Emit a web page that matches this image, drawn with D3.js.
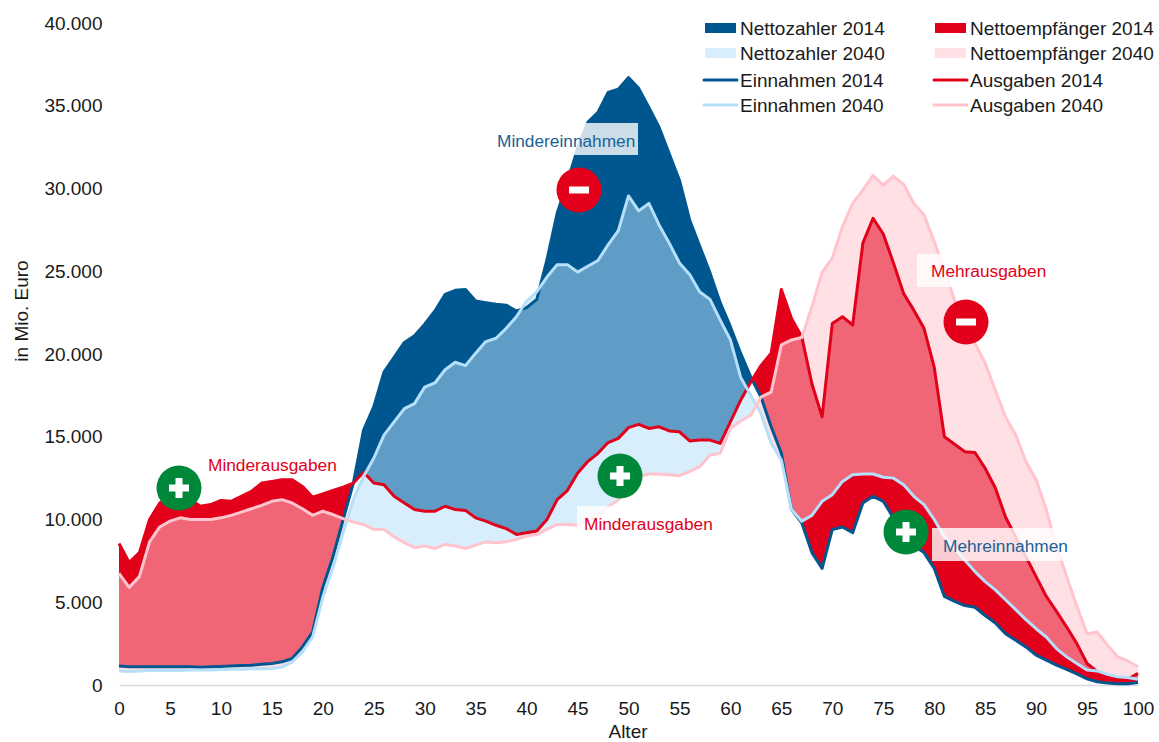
<!DOCTYPE html>
<html lang="de">
<head>
<meta charset="utf-8">
<script src="https://cdn.jsdelivr.net/npm/d3@7/dist/d3.min.js"></script>
<style>
html,body{margin:0;padding:0;background:#fff}
svg{display:block}
text{font-family:"Liberation Sans",Arial,sans-serif}
</style>
</head>
<body>
<svg id="chart" width="1159" height="742"></svg>
<script>
const ages = d3.range(0, 101);
const einnahmen2014 = [1150,1100,1100,1100,1100,1100,1100,1100,1080,1100,
 1120,1150,1180,1200,1250,1300,1400,1600,2300,3200,
 5900,7750,10000,12200,15400,16800,18900,19800,20700,21100,
 21800,22600,23600,23850,23900,23200,23100,23000,22950,22600,
 22800,23300,25700,28500,30400,32400,34000,34600,35800,36000,
 36700,36050,34900,33700,32100,30500,28100,26500,24900,23100,
 21650,20050,18600,17400,15600,14000,10600,9800,8000,7050,
 9400,9550,9200,11000,11400,11100,10100,9200,8400,8000,
 7050,5350,5050,4800,4700,4200,3750,3100,2700,2300,
 1800,1500,1200,950,670,370,200,120,70,70,150];
const einnahmen2040 = [850,820,850,880,880,880,880,900,900,900,
 930,950,950,980,980,1000,1080,1400,2000,2900,
 5300,7100,9200,11200,12600,13700,15100,15900,16700,17000,
 18000,18250,19050,19500,19300,20050,20750,20950,21550,22250,
 23200,23750,24650,25400,25400,24950,25300,25650,26600,27450,
 29550,28650,29100,27800,26700,25500,24800,23750,23300,22050,
 20850,18600,17500,16400,14600,13600,10600,9900,10250,11100,
 11500,12300,12700,12750,12750,12550,12500,12100,11400,10900,
 10000,8950,8250,7550,6850,6250,5750,5150,4550,3950,
 3400,2900,2200,1700,1300,900,850,650,500,450,350];
const ausgaben2014 = [8550,7400,8000,10000,11000,11300,11200,11200,10800,10900,
 11150,11100,11400,11700,12200,12300,12400,12400,12000,11350,
 11550,11750,11950,12200,12850,12200,12100,11400,11000,10600,
 10500,10500,10800,10600,10550,10100,9900,9650,9450,9100,
 9200,9300,10000,11200,11750,12800,13500,14000,14650,14900,
 15550,15750,15500,15600,15350,15300,14750,14800,14800,14600,
 15900,17200,18300,19300,20050,23900,22150,21050,18200,16200,
 21850,22250,21750,26700,28200,27250,25500,23650,22650,21550,
 19200,15000,14550,14100,14050,13100,11900,10150,8950,7750,
 6550,5350,4450,3500,2500,1300,800,600,450,350,700];
const ausgaben2040 = [6750,5900,6550,8650,9550,9900,10100,10000,10000,10000,
 10100,10250,10450,10650,10850,11100,11200,11000,10650,10250,
 10500,10300,10050,9850,9700,9400,9400,8950,8600,8300,
 8400,8250,8500,8400,8250,8450,8650,8600,8650,8800,
 9000,9100,9400,9700,9700,9650,10000,10250,10750,11200,
 11900,12600,12750,12750,12700,12650,12900,13200,13900,14000,
 15500,15950,16300,17400,17700,20550,20850,21000,22850,24950,
 25800,27700,29100,29900,30800,30200,30750,30250,29100,28400,
 26800,25050,23250,21850,20650,19450,17800,16200,15100,13500,
 12400,10600,8350,6550,4750,3100,3200,2400,1700,1450,1100];
const xTicks = d3.range(0, 101, 5);
const yTicks = [0,5000,10000,15000,20000,25000,30000,35000,40000];
const legendLeft = ["Nettozahler 2014","Nettozahler 2040","Einnahmen 2014","Einnahmen 2040"];
const legendRight = ["Nettoempfänger 2014","Nettoempfänger 2040","Ausgaben 2014","Ausgaben 2040"];
const annotationLabels = [
 {t:"Mindereinnahmen",x:497,y:141,c:"blue",box:[490,123,148,32]},
 {t:"Mehrausgaben",x:931,y:271,c:"red",box:[917,254,140,33]},
 {t:"Minderausgaben",x:584,y:524,c:"red",box:[577,506,140,34]},
 {t:"Minderausgaben",x:208,y:465,c:"red",box:null},
 {t:"Mehreinnahmen",x:943,y:546,c:"blue",box:[932,528,130,33]}
];
const badges = [
 {k:"plus",x:179,y:488},{k:"minus",x:579,y:190},{k:"plus",x:620,y:476},
 {k:"minus",x:966,y:322},{k:"plus",x:906,y:532}
];

const C = {dark:"#00578F",red:"#E2001A",lblue:"#B6DFFA",lred:"#FFC4CD",green:"#00883A",
           blueText:"#1A6296",grid:"#D9D9D9",text:"#1A1A1A"};
const svg = d3.select("#chart");
const x = d3.scaleLinear().domain([0,100]).range([119,1138]);
const y = d3.scaleLinear().domain([0,40000]).range([685,23]);

// pairs with the exact crossing points inserted
function pairs(a,b){
  const out=[];
  ages.forEach((age,i)=>{
    out.push({age,a:a[i],b:b[i]});
    if(i<ages.length-1){
      const d0=a[i]-b[i], d1=a[i+1]-b[i+1];
      if(d0*d1<0){
        const t=d0/(d0-d1);
        const v=a[i]+t*(a[i+1]-a[i]);
        out.push({age:age+t,a:v,b:v});
      }
    }
  });
  return out;
}
const band = lo=>d3.area().x(d=>x(d.age)).y0(d=>y(d[lo])).y1(d=>y(Math.max(d.a,d.b)));
const p14=pairs(einnahmen2014,ausgaben2014), p40=pairs(einnahmen2040,ausgaben2040);

const gA=svg.append("g");
gA.append("path").attr("d",band("b")(p14)).attr("fill",C.dark);   // Einnahmen above Ausgaben
gA.append("path").attr("d",band("a")(p14)).attr("fill",C.red);    // Ausgaben above Einnahmen
gA.append("path").attr("d",band("b")(p40)).attr("fill",C.lblue).attr("fill-opacity",.52);
gA.append("path").attr("d",band("a")(p40)).attr("fill",C.lred).attr("fill-opacity",.52);

// axes
const fmt = d3.formatLocale({decimal:",",thousands:".",grouping:[3],currency:["","€"]}).format(",d");
const xAxis = d3.axisBottom(x).tickValues(xTicks).tickSize(0).tickPadding(16.5).tickFormat(d3.format("d"));
const yAxis = d3.axisLeft(y).tickValues(yTicks).tickSize(0).tickPadding(16.5).tickFormat(fmt);
const gx=svg.append("g").attr("transform","translate(0,685)").call(xAxis);
const gy=svg.append("g").attr("transform","translate(119,0)").call(yAxis);
gy.select(".domain").remove();
gx.select(".domain").attr("stroke",C.grid).attr("stroke-width",1.5);
svg.selectAll(".tick text").attr("font-size",19).attr("fill",C.text)
   .style("font-family",'"Liberation Sans",Arial,sans-serif');
svg.append("text").attr("x",628).attr("y",737.5).attr("text-anchor","middle").attr("font-size",19).attr("fill",C.text).text("Alter");
svg.append("text").attr("transform","translate(28,311) rotate(-90)").attr("text-anchor","middle").attr("font-size",19).attr("fill",C.text).text("in Mio. Euro");

// lines
const line=d3.line().x((d,i)=>x(ages[i])).y(d=>y(d));
[[einnahmen2014,C.dark],[ausgaben2014,C.red],[einnahmen2040,C.lblue],[ausgaben2040,C.lred]].forEach(([s,c])=>{
  svg.append("path").attr("d",line(s)).attr("fill","none").attr("stroke",c).attr("stroke-width",3).attr("stroke-linejoin","round");
});

// annotation boxes and text
annotationLabels.forEach(a=>{
  if(a.box) svg.append("rect").attr("x",a.box[0]).attr("y",a.box[1]).attr("width",a.box[2]).attr("height",a.box[3]).attr("fill","#fff").attr("fill-opacity",.8);
});
annotationLabels.forEach(a=>{
  svg.append("text").attr("x",a.x).attr("y",a.y).attr("dy","0.35em").attr("font-size",17.3)
     .attr("fill",a.c==="red"?C.red:C.blueText).text(a.t);
});
badges.forEach(b=>{
  const g=svg.append("g").attr("transform",`translate(${b.x},${b.y})`);
  g.append("circle").attr("r",22.5).attr("fill",b.k==="plus"?C.green:C.red);
  g.append("rect").attr("x",-10).attr("y",-3.5).attr("width",20).attr("height",7).attr("fill","#fff");
  if(b.k==="plus") g.append("rect").attr("x",-3.5).attr("y",-10).attr("width",7).attr("height",20).attr("fill","#fff");
});

// legend
const rowY=[28,53,80,105];
const swatch=(i,sx,c,c2)=>{
  if(i===0||i===1){
    svg.append("rect").attr("x",sx).attr("y",rowY[i]-5).attr("width",31).attr("height",10)
       .attr("fill",i===0?c:c2).attr("fill-opacity",i===0?1:.52);
  } else {
    svg.append("line").attr("x1",sx-1).attr("x2",sx+32).attr("y1",rowY[i]).attr("y2",rowY[i])
       .attr("stroke",i===2?c:c2).attr("stroke-width",3).attr("stroke-linecap","round");
  }
};
legendLeft.forEach((t,i)=>{
  swatch(i,705,C.dark,C.lblue);
  svg.append("text").attr("x",740).attr("y",rowY[i]).attr("dy","0.35em").attr("font-size",19).attr("fill",C.text).text(t);
});
legendRight.forEach((t,i)=>{
  swatch(i,935,C.red,C.lred);
  svg.append("text").attr("x",970).attr("y",rowY[i]).attr("dy","0.35em").attr("font-size",19).attr("fill",C.text).text(t);
});
</script>
</body>
</html>
